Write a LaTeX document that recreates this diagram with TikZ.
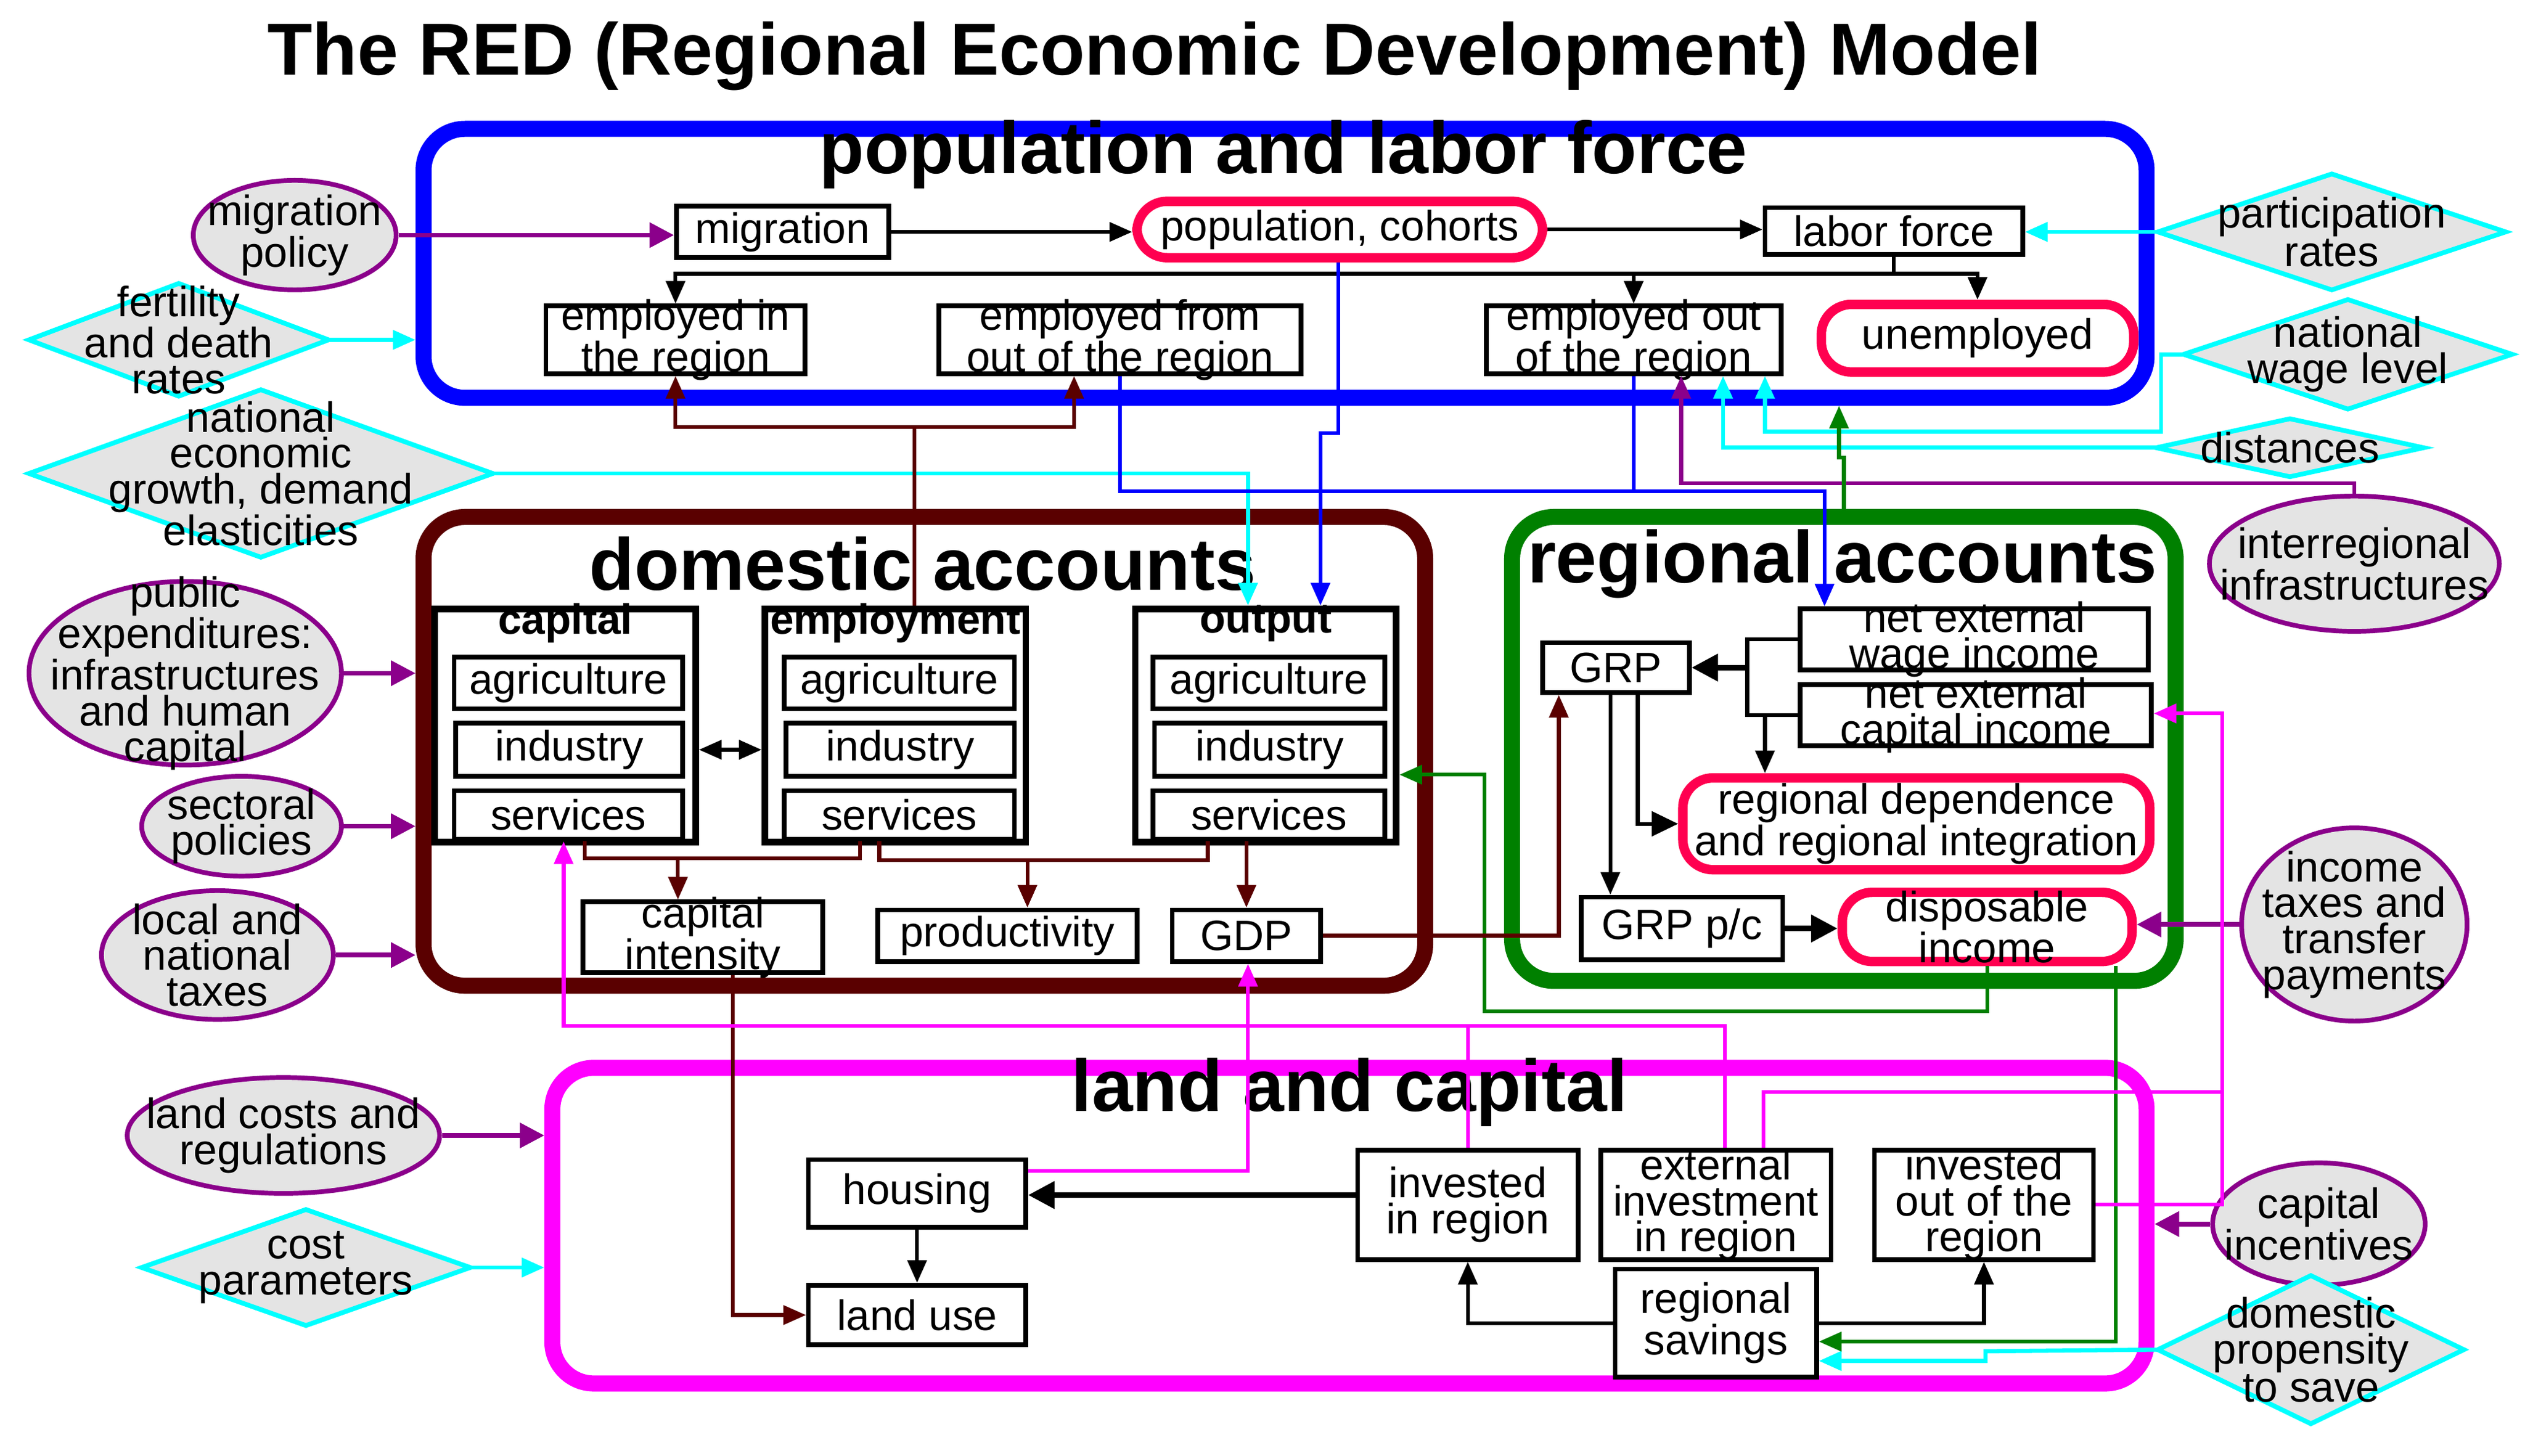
\documentclass[tikz,border=0pt]{standalone}
\usepackage{fontspec}
\setmainfont{Liberation Sans}
\usetikzlibrary{arrows.meta,shapes.geometric,fit,calc}
\definecolor{bluec}{HTML}{0000FF}
\definecolor{brc}{HTML}{5A0000}
\definecolor{grc}{HTML}{008000}
\definecolor{mgc}{HTML}{FF00FF}
\definecolor{cyc}{HTML}{00FFFF}
\definecolor{puc}{HTML}{8B008B}
\definecolor{rdc}{HTML}{FF0050}
\definecolor{gyc}{HTML}{E4E4E4}
\newcommand\fs{\fontsize{22.5}{19}\selectfont}
\newcommand\mkbox[7]{\node[#6, fit={(#2,#3)(#4,#5)}] (#1) {};
  \node[txt] (#1-t) at (#1.center) {#7};}
\newcommand\mkell[6]{\node[ell, minimum width=#4cm, minimum height=#5cm] (#1) at (#2,#3) {};
  \node[txt] (#1-t) at (#1.center) {#6};}
\newcommand\mkdia[6]{\draw[dia] (#2-#4,#3) -- (#2,#3-#5) -- (#2+#4,#3) -- (#2,#3+#5) -- cycle;
  \node[txt] (#1) at (#2,#3) {#6};
  \coordinate (#1-w) at (#2-#4,#3); \coordinate (#1-e) at (#2+#4,#3);}
\tikzset{
  txt/.style={font=\fs, align=center, inner sep=0pt},
  bx/.style={draw, line width=2.5pt, fill=white, inner sep=0pt},
  subb/.style={draw, line width=3.5pt, fill=white, inner sep=0pt},
  rr/.style={draw=rdc, line width=5pt, fill=white, rounded corners=16pt, inner sep=0pt},
  big/.style={line width=8.5pt, rounded corners=22pt, inner sep=0pt},
  ell/.style={ellipse, draw=puc, line width=2.5pt, fill=gyc, inner sep=0pt},
  dia/.style={draw=cyc, line width=2.5pt, fill=gyc},
  tip/.style={-{Triangle[length=12pt,width=10pt]}},
  bk/.style={line width=2pt, black},
  bkar/.style={bk, tip},
  bkth/.style={line width=3pt, black, -{Triangle[length=14pt,width=14pt]}},
  cy/.style={line width=2.2pt, cyc, tip},
  pu/.style={line width=2.5pt, puc, -{Triangle[length=13pt,width=13pt]}},
  bl/.style={line width=2pt, bluec},
  br/.style={line width=2pt, brc},
  gr/.style={line width=2pt, grc},
  mg/.style={line width=2pt, mgc},
  ttl/.style={font=\fontsize{39}{41}\selectfont\bfseries, inner sep=0pt},
}
\begin{document}
\begin{tikzpicture}[x=0.03cm,y=-0.03cm]
\useasboundingbox (0,0) rectangle (1568,904);
\fill[white] (0,0) rectangle (1568,904);
\node[font=\fontsize{39}{41}\selectfont\bfseries, inner sep=0pt] (title) at (717,35) {The RED (Regional Economic Development) Model};

% big boxes
\node[big, draw=bluec, fit={(263,80)(1333,247)}] (popbox) {};
\node[big, draw=brc, fit={(263,321)(885,612)}] (dombox) {};
\node[big, draw=grc, fit={(939,321)(1351,609)}] (regbox) {};
\node[big, draw=mgc, fit={(343,663)(1333,859)}] (landbox) {};
\node[ttl] (t1) at (797,96) {population and labor force};
\node[ttl] (t2) at (573,350) {domestic accounts};
\node[ttl] (t3) at (1144,350) {regional accounts};
\node[ttl] (t4) at (838,678) {land and capital};

% population
\mkbox{mig}{420}{128}{552}{160}{bx}{migration}
\mkbox{pop}{706}{125}{958}{160}{rr}{population, cohorts}
\mkbox{lab}{1096}{129}{1256}{158}{bx}{labor force}
\mkbox{empin}{339}{190}{500}{232}{bx}{employed in\\the region}
\mkbox{empfrom}{583}{190}{808}{232}{bx}{employed from\\out of the region}
\mkbox{empout}{923}{190}{1106}{232}{bx}{employed out\\of the region}
\mkbox{unemp}{1131}{189}{1325}{231}{rr}{unemployed}

% domestic
\mkbox{capB}{270}{378}{432}{523}{subb}{}
\mkbox{empB}{475}{378}{637}{523}{subb}{}
\mkbox{outB}{705}{378}{867}{523}{subb}{}
\node[txt, font=\fs\bfseries] (capL) at (351,387) {capital};
\node[txt, font=\fs\bfseries] (empL) at (556,387) {employment};
\node[txt, font=\fs\bfseries] (outL) at (786,387) {output};
\mkbox{capA}{282}{408}{424}{440}{bx}{agriculture}
\mkbox{capI}{283}{449}{424}{482}{bx}{industry}
\mkbox{capS}{282}{491}{424}{521}{bx}{services}
\mkbox{empA}{487}{408}{630}{440}{bx}{agriculture}
\mkbox{empI}{488}{449}{630}{482}{bx}{industry}
\mkbox{empS}{487}{491}{630}{521}{bx}{services}
\mkbox{outA}{716}{408}{860}{440}{bx}{agriculture}
\mkbox{outI}{717}{449}{860}{482}{bx}{industry}
\mkbox{outS}{716}{491}{860}{521}{bx}{services}
\mkbox{capint}{362}{560}{511}{604}{bx}{capital\\intensity}
\mkbox{prod}{545}{565}{706}{597}{bx}{productivity}
\mkbox{gdp}{728}{565}{820}{597}{bx}{GDP}

% regional
\mkbox{grp}{958}{399}{1049}{430}{bx}{GRP}
\mkbox{netw}{1118}{378}{1334}{416}{bx}{net external\\wage income}
\mkbox{netc}{1118}{425}{1336}{463}{bx}{net external\\capital income}
\mkbox{regdep}{1045}{483}{1335}{540}{rr}{regional dependence\\and regional integration}
\mkbox{grppc}{982}{557}{1107}{596}{bx}{GRP p/c}
\mkbox{disp}{1144}{554}{1324}{597}{rr}{disposable\\income}

% land
\mkbox{housing}{502}{720}{637}{762}{bx}{housing}
\mkbox{landuse}{502}{798}{637}{835}{bx}{land use}
\mkbox{invin}{843}{714}{980}{782}{bx}{invested\\in region}
\mkbox{extinv}{994}{714}{1137}{782}{bx}{external\\investment\\in region}
\mkbox{invout}{1164}{714}{1300}{782}{bx}{invested\\out of the\\region}
\mkbox{sav}{1003}{788}{1128}{855}{bx}{regional\\savings}

% ellipses
\mkell{migpol}{183}{146}{3.78}{2.04}{migration\\policy}
\mkell{pubexp}{115}{418}{5.82}{3.42}{public\\expenditures:\\infrastructures\\and human\\capital}
\mkell{sect}{150}{513}{3.72}{1.86}{sectoral\\policies}
\mkell{ltax}{135}{593}{4.32}{2.4}{local and\\national\\taxes}
\mkell{landc}{176}{705}{5.82}{2.16}{land costs and\\regulations}
\mkell{interreg}{1462}{350}{5.4}{2.52}{interregional\\infrastructures}
\mkell{inctax}{1462}{574}{4.2}{3.6}{income\\taxes and\\transfer\\payments}
\mkell{capinc}{1440}{760}{3.96}{2.28}{capital\\incentives}

% diamonds
\mkdia{fert}{111}{211}{93}{35}{fertility\\and death\\rates}
\mkdia{natec}{162}{294}{144}{52}{national\\economic\\growth, demand\\elasticities}
\mkdia{cost}{190}{787}{102}{36}{cost\\parameters}
\mkdia{part}{1448}{144}{108}{36}{participation\\rates}
\mkdia{wage}{1458}{220}{102}{34}{national\\wage level}
\mkdia{dist}{1422}{278}{83}{18}{distances}
\mkdia{prop}{1435}{838}{95}{46}{domestic\\propensity\\to save}

% black connectors
\draw[bkar] (mig.east) -- (pop.west |- mig.east);
\draw[bkar] (pop.east) -- (lab.west |- pop.east);
\coordinate (lj) at (1176,170);
\draw[bk] (lab.south) -- (lj);
\draw[bkar] (lj) -| (empin.north);
\draw[bkar] (lj) -| (unemp.north);
\draw[bkar] (lj -| empout.north) -- (empout.north);
\draw[bk, {Triangle[length=12pt,width=10pt]}-{Triangle[length=12pt,width=10pt]}] (capB.east |- capI) -- (empB.west |- capI);
\draw[bk] (netw.west) -- (netw.west -| 1085,0) -- (netc.west -| 1085,0) -- (netc.west);
\draw[bkth] (grp.east -| 1085,0) -- (grp.east);
\draw[bkar] (netc.west -| 1096,0) -- (regdep.north -| 1096,0);
\draw[bkar] (grp.south -| 1000,0) -- (grppc.north -| 1000,0);
\draw[bk, -{Triangle[length=14pt,width=13pt]}] (grp.south -| 1017,0) |- (regdep.west);
\draw[bkth] (grppc.east) -- (disp.west |- grppc.east);
\draw[bkth] (invin.west |- 0,742) -- (housing.east |- 0,742);
\draw[bkar] (housing.south) -- (landuse.north);
\draw[bkar] (sav.west) -| (invin.south);
\draw[bkar] (sav.east) -| (invout.south);

% cyan
\draw[cy] (fert-e) -- (popbox.west |- fert-e);
\draw[cy] (natec-e) -| (outB.north -| 775,0);
\draw[cy] (cost-e) -- (landbox.west |- cost-e);
\draw[cy] (part-w) -- (lab.east |- part-w);
\draw[cy] (wage-w) -- (1342,220) -- (1342,268) -| (empout.south -| 1096,0);
\draw[cy] (dist-w) -| (empout.south -| 1070,0);
\draw[cy] (prop-w) -- (1233,839) -- (1233,845) -- (sav.east |- 0,845);

% purple
\draw[pu] (migpol.east) -- (mig.west |- migpol.east);
\draw[pu] (pubexp.east) -- (dombox.west |- pubexp.east);
\draw[pu] (sect.east) -- (dombox.west |- sect.east);
\draw[pu] (ltax.east) -- (dombox.west |- ltax.east);
\draw[pu] (landc.east) -- (landbox.west |- landc.east);
\draw[line width=2pt, puc, tip] (interreg.north) -- (1462,300) -| (empout.south -| 1044,0);
\draw[pu] (inctax.west) -- (disp.east |- inctax.west);
\draw[pu] (capinc.west) -- (landbox.east |- capinc.west);

% blue
\draw[bl, tip] (pop.south -| 831,0) -- (831,269) -- (820,269) -- (outB.north -| 820,0);
\draw[bl, tip] (empfrom.south) -- (empfrom.south |- 0,305) -- (1133,305) -- (netw.north -| 1133,0);
\draw[bl] (empout.south) -- (empout.south |- 0,305);

% green
\draw[gr, tip] (regbox.north -| 1145,0) -- (1145,284) -- (1142,284) -- (popbox.south -| 1142,0);
\draw[gr, tip] (disp.south) -- (disp.south |- 0,628) -- (922,628) -- (922,481) -- (outB.east |- 0,481);
\draw[gr, tip] (disp.south -| 1314,0) -- (1314,833) -- (sav.east |- 0,833);

% brown
\draw[br] (empB.north -| 568,0) -- (568,265);
\draw[br, tip] (568,265) -| (empin.south);
\draw[br, tip] (568,265) -| (empfrom.south -| 667,0);
\draw[br] (capS.south -| 363,0) -- (363,533) -- (534,533) -- (empS.south -| 534,0);
\draw[br, tip] (421,533) -- (capint.north -| 421,0);
\draw[br] (empS.south -| 546,0) -- (546,534) -- (750,534) -- (outS.south -| 750,0);
\draw[br, tip] (638,534) -- (prod.north -| 638,0);
\draw[br, tip] (outS.south -| 774,0) -- (gdp.north -| 774,0);
\draw[br, tip] (gdp.east) -| (grp.south -| 968,0);
\draw[br, tip] (capint.south -| 455,0) |- (landuse.west);

% magenta
\draw[mg, tip] (invout.east) -- (1380,748) -- (1380,443) -- (netc.east |- 0,443);
\draw[mg] (extinv.north -| 1095,0) -- (1095,678) -- (1380,678);
\draw[mg, tip] (extinv.north -| 1071,0) -- (1071,637) -- (350,637) -- (capS.south -| 350,0);
\draw[mg] (invin.north) -- (invin.north |- 0,637);
\draw[mg, tip] (housing.east |- 0,727) -| (gdp.south -| 775,0);
\end{tikzpicture}
\end{document}
